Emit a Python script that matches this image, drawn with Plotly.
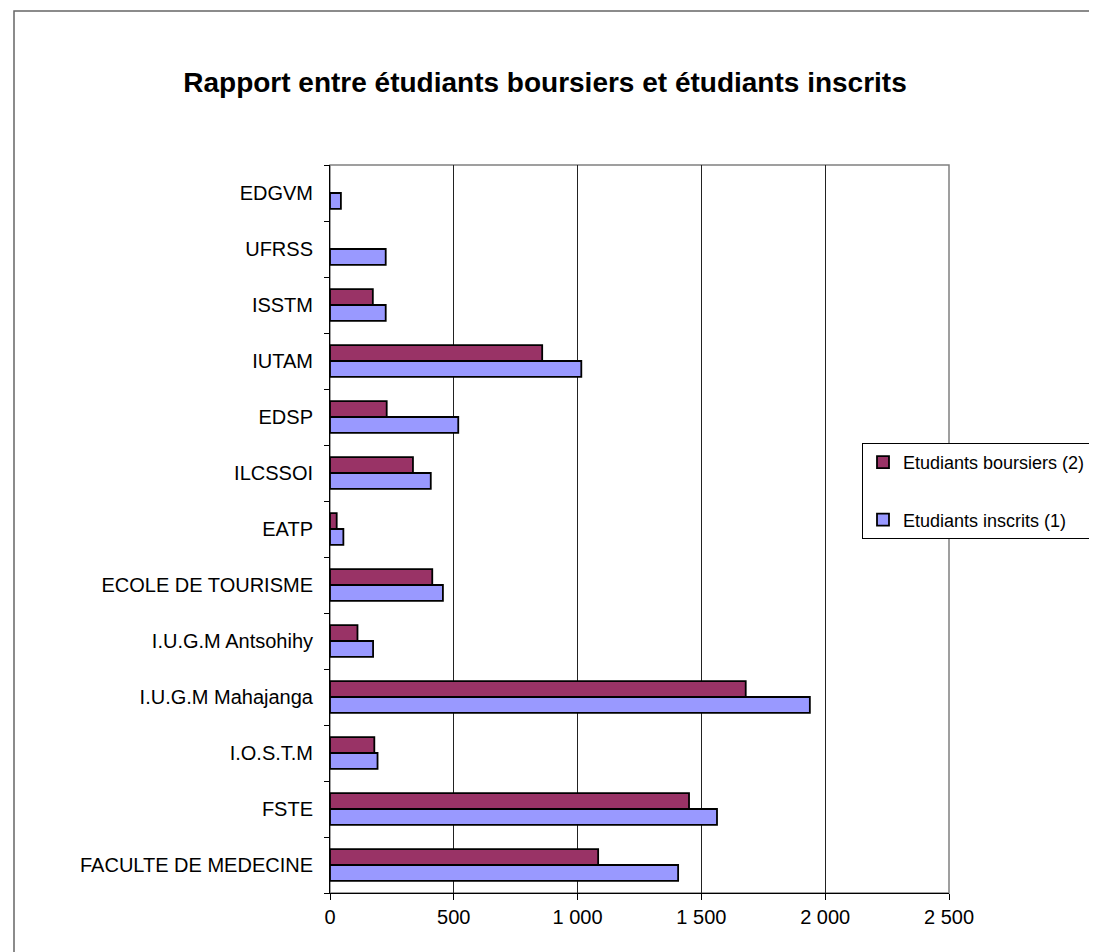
import plotly.graph_objects as go

categories = ["FACULTE DE MEDECINE", "FSTE", "I.O.S.T.M", "I.U.G.M Mahajanga",
              "I.U.G.M Antsohihy", "ECOLE DE TOURISME", "EATP", "ILCSSOI",
              "EDSP", "IUTAM", "ISSTM", "UFRSS", "EDGVM"]
inscrits = [1406, 1563, 192, 1938, 174, 456, 54, 407, 518, 1015, 225, 225, 44]
boursiers = [1083, 1450, 179, 1679, 111, 413, 27, 335, 229, 857, 173, None, None]
x_ticks = [0, 500, 1000, 1500, 2000, 2500]

W, H = 1097, 952
OFF = 8  # browser body margin
L, R, T, B = 330 - OFF, 949 - OFF, 165 - OFF, 893 - OFF

fig = go.Figure()
fig.add_trace(go.Bar(y=categories, x=inscrits, orientation="h",
                     name="Etudiants inscrits (1)", legendgroup="a", legendrank=2,
                     marker=dict(color="#9999FF", line=dict(color="black", width=1.8))))
fig.add_trace(go.Bar(y=categories, x=boursiers, orientation="h",
                     name="Etudiants boursiers (2)", legendgroup="b", legendrank=1,
                     marker=dict(color="#993366", line=dict(color="black", width=1.8))))

def px_x(p):
    return (p - OFF - L) / (R - L)

def px_y(p):
    return (B - (p - OFF)) / (B - T)

fig.update_layout(
    width=W, height=H,
    margin=dict(l=L, r=W - R, t=T, b=H - B, pad=0),
    paper_bgcolor="white", plot_bgcolor="white",
    font=dict(family="Arial, Liberation Sans, sans-serif", size=20, color="black"),
    separators=", ",
    barmode="group", bargap=0.43, bargroupgap=0,
    title=dict(text="<b>Rapport entre étudiants boursiers et étudiants inscrits</b>",
               x=(545 - OFF) / W, xanchor="center", xref="container",
               y=1 - (82 - OFF) / H, yanchor="middle", yref="container",
               font=dict(size=28, color="black")),
    showlegend=True,
    legend=dict(x=px_x(862), y=px_y(443), xanchor="left", yanchor="top",
                traceorder="grouped", tracegroupgap=31,
                bordercolor="black", borderwidth=1, bgcolor="white",
                font=dict(size=18), itemclick=False, itemwidth=30),
    xaxis=dict(range=[0, 2500], tickvals=x_ticks, separatethousands=True,
               showgrid=True, gridcolor="#222", gridwidth=1,
               showline=True, linecolor="black", linewidth=1,
               ticks="outside", ticklen=6, tickcolor="black",
               zeroline=False, fixedrange=True),
    yaxis=dict(type="category", tickson="boundaries", ticks="outside",
               ticklen=5, tickcolor="black", showline=True, linecolor="black",
               linewidth=1, showgrid=False, ticklabelstandoff=12,
               fixedrange=True),
    shapes=[
        dict(type="rect", xref="paper", yref="paper", x0=0, x1=1, y0=0, y1=1,
             line=dict(color="#808080", width=1.5), layer="below"),
        dict(type="rect", xref="paper", yref="paper",
             x0=px_x(14), x1=px_x(W + 30), y0=px_y(H + 30), y1=px_y(11),
             line=dict(color="#666666", width=1.5), layer="above"),
    ],
)

fig.write_html("out.html")
